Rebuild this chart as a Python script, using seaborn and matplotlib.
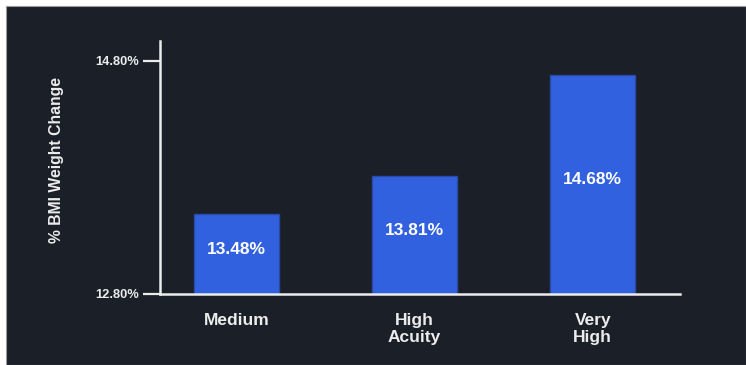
import matplotlib
matplotlib.use("Agg")
import matplotlib.pyplot as plt
import seaborn as sns
from matplotlib.patches import Rectangle

categories = ["Medium", "High\nAcuity", "Very\nHigh"]
values = [13.48, 13.81, 14.68]
bar_labels = ["13.48%", "13.81%", "14.68%"]
yticks = [12.80, 14.80]
ytick_labels = ["12.80%", "14.80%"]

BG = "#1b1f27"
BAR = "#3261e0"
FG = "#ececec"

sns.set_theme(style="ticks")
plt.rcParams["font.family"] = ["Liberation Sans", "DejaVu Sans"]

fig = plt.figure(figsize=(7.46, 3.65), dpi=100)
fig.patch.set_facecolor("white")
fig.patches.append(Rectangle((6 / 746, 0), 1 - 6 / 746, 1 - 6 / 365,
                             transform=fig.transFigure, facecolor=BG,
                             edgecolor="#9a9a9a", linewidth=0.8, zorder=-10))

ax = fig.add_axes([160 / 746, (365 - 293.5) / 365, 520 / 746, 252 / 365])
ax.set_facecolor("none")

sns.barplot(x=categories, y=values, color=BAR, width=0.48, saturation=1,
            edgecolor="#2a4aa8", linewidth=1, ax=ax)

ax.set_ylim(12.8, 14.965)
ax.set_xlim(-0.43, 2.49)

for i, (v, lab) in enumerate(zip(values, bar_labels)):
    ax.text(i, (12.8 + v) / 2 + 0.04, lab, ha="center", va="center", color="white",
            fontsize=12.5, fontweight="bold")

ax.set_yticks(yticks)
ax.set_yticklabels(ytick_labels)
ax.tick_params(axis="y", colors=FG, length=12, width=1.6, pad=3, labelsize=9.3)
for t in ax.get_yticklabels():
    t.set_fontweight("bold")
ax.tick_params(axis="x", length=0, pad=14, labelsize=12.5, colors=FG)
for t in ax.get_xticklabels():
    t.set_fontweight("bold")
    t.set_linespacing(1.15)

for s in ["top", "right"]:
    ax.spines[s].set_visible(False)
for s in ["left", "bottom"]:
    ax.spines[s].set_color(FG)
    ax.spines[s].set_linewidth(1.8)

ax.set_xlabel("")
ax.set_ylabel("% BMI Weight Change", color=FG, fontsize=11.3, fontweight="bold")
ax.yaxis.set_label_coords(-0.184, 0.53)

fig.savefig("out.png", dpi=100, facecolor=fig.get_facecolor())
